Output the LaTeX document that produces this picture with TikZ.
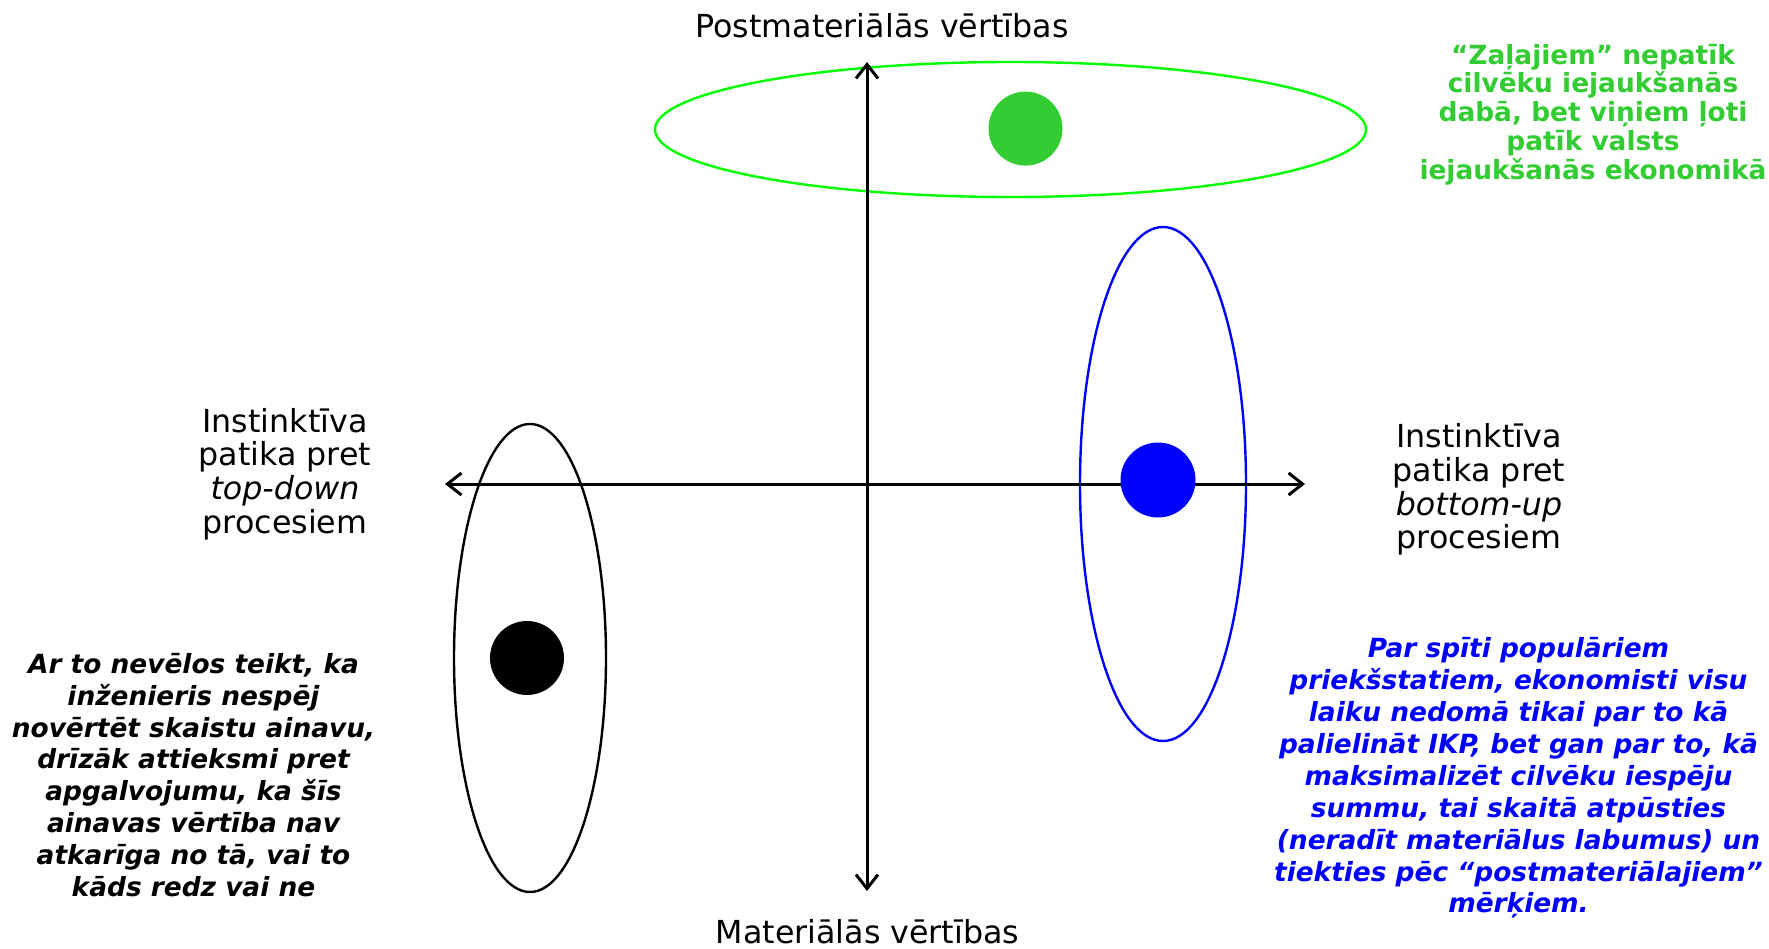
\documentclass[tikz,border=0pt]{standalone}
\usepackage{fontspec}
\setmainfont{DejaVu Sans}
\usetikzlibrary{arrows.meta}
\definecolor{lgreen}{RGB}{51,204,51}
\definecolor{bgreen}{RGB}{0,255,0}
\definecolor{pblue}{RGB}{0,0,255}
\begin{document}
\begin{tikzpicture}[x=1pt,y=-1pt,
  axis/.style={line width=3pt, black, {Straight Barb[length=14pt,width=22pt,line width=3pt]}-{Straight Barb[length=14pt,width=22pt,line width=3pt]}},
  ring/.style={line width=2.4pt},
  dot/.style={circle, inner sep=0pt, minimum size=#1},
  lab/.style={inner sep=0pt, align=center, font=\fontsize{31.7}{33.8}\selectfont},
  note/.style={inner sep=0pt, align=center, font=\fontsize{26.4}{31.9}\selectfont\bfseries\itshape}
]
\useasboundingbox (0,0) rectangle (1769,949);
% ellipses
\draw[ring, bgreen] (1010.5,129.5) ellipse [x radius=355.5, y radius=67.5];
\draw[ring, pblue] (1163,484) ellipse [x radius=83, y radius=257];
\draw[ring, black] (530,658) ellipse [x radius=76, y radius=234];
% axes
\coordinate (top) at (867,62);
\coordinate (bot) at (867,891);
\coordinate (lft) at (445,484);
\coordinate (rgt) at (1305,484);
\draw[axis] (bot) -- (top);
\draw[axis] (lft) -- (rgt);
% dots
\node[dot=74pt, fill=lgreen] (gdot) at (1025.5,128.6) {};
\node[dot=75pt, fill=pblue] (bdot) at (1158,480) {};
\node[dot=74pt, fill=black] (kdot) at (527,658) {};
% axis labels
\node[lab, anchor=base] (tlab) at (882,38) {Postmateriālās vērtības};
\node[lab, anchor=base, text depth=0pt] (blab) at (867.5,943) {Materiālās vērtības};
\node[lab] (llab) at (285,474) {Instinktīva\\patika pret\\\textit{top-down}\\procesiem};
\node[lab] (rlab) at (1479,489.5) {Instinktīva\\patika pret\\\textit{bottom-up}\\procesiem};
% notes
\node[inner sep=0pt, align=center, text=lgreen, font=\fontsize{26.4}{28.8}\selectfont\bfseries] (gnote) at (1593,114.5)
 {“Zaļajiem” nepatīk\\cilvēku iejaukšanās\\dabā, bet viņiem ļoti\\patīk valsts\\iejaukšanās ekonomikā};
\node[note, text=black] (knote) at (193.5,775)
 {Ar to nevēlos teikt, ka\\inženieris nespēj\\novērtēt skaistu ainavu,\\drīzāk attieksmi pret\\apgalvojumu, ka šīs\\ainavas vērtība nav\\atkarīga no tā, vai to\\kāds redz vai ne};
\node[note, text=pblue] (bnote) at (1518.5,778)
 {Par spīti populāriem\\priekšstatiem, ekonomisti visu\\laiku nedomā tikai par to kā\\palielināt IKP, bet gan par to, kā\\maksimalizēt cilvēku iespēju\\summu, tai skaitā atpūsties\\(neradīt materiālus labumus) un\\tiekties pēc “postmateriālajiem”\\mērķiem.};
\end{tikzpicture}
\end{document}
